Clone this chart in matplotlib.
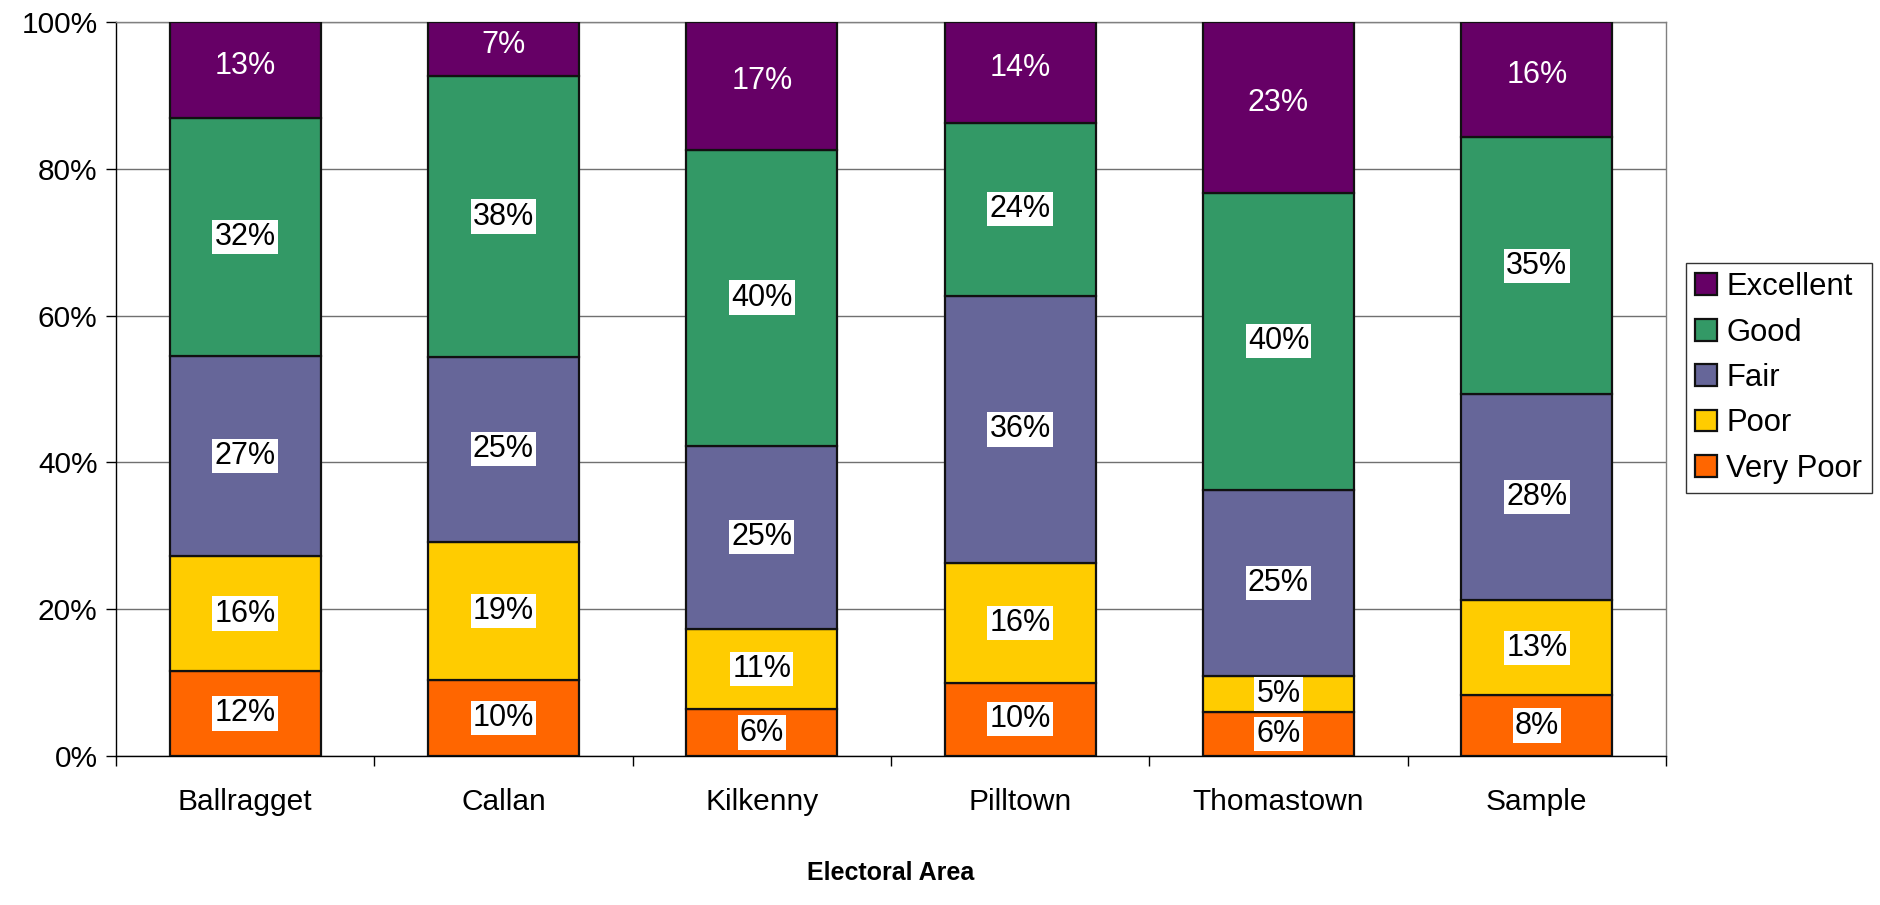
import matplotlib
matplotlib.use("Agg")
import matplotlib.pyplot as plt
import numpy as np

plt.rcParams['font.family'] = ['Liberation Sans', 'DejaVu Sans']

areas = ["Ballragget", "Callan", "Kilkenny", "Pilltown", "Thomastown", "Sample"]
series_names = ["Very Poor", "Poor", "Fair", "Good", "Excellent"]
very_poor = [11.6, 10.3, 6.4, 10.0, 6.0, 8.3]
poor = [15.6, 18.9, 10.9, 16.3, 4.9, 12.9]
fair = [27.3, 25.2, 25.0, 36.4, 25.4, 28.1]
good = [32.4, 38.2, 40.3, 23.6, 40.4, 35.0]
excellent = [13.1, 7.4, 17.4, 13.7, 23.3, 15.7]
colors = ["#FF6600", "#FFCC00", "#666699", "#339966", "#660066"]
y_ticks = [0, 20, 40, 60, 80, 100]

series = [very_poor, poor, fair, good, excellent]

fig = plt.figure(figsize=(18.81, 9.05), dpi=100)
ax = fig.add_axes([116/1881, 1-756/905, (1666-116)/1881, (756-22)/905])

x = np.arange(len(areas))
bottom = np.zeros(len(areas))
handles = []
for i, (name, vals, col) in enumerate(zip(series_names, series, colors)):
    vals = np.array(vals)
    b = ax.bar(x, vals, 0.585, bottom=bottom, color=col, edgecolor='#111111',
               linewidth=1.6, label=name, zorder=3)
    handles.append(b)
    for xi, v, bt in zip(x, vals, bottom):
        txt = f"{int(round(v))}%"
        if name == "Excellent":
            ax.text(xi, bt + v/2 + 0.6, txt, ha='center', va='center', fontsize=22,
                    color='white', zorder=5)
        else:
            ax.text(xi, bt + v/2, txt, ha='center', va='center', fontsize=22,
                    color='black', zorder=5,
                    bbox=dict(boxstyle='square,pad=0.07', facecolor='white', edgecolor='none'))
    bottom = bottom + vals

ax.set_xlim(-0.5, len(areas) - 0.5)
ax.set_ylim(0, 100)
ax.set_yticks(y_ticks)
ax.set_yticklabels([f"{t}%" for t in y_ticks], fontsize=21.5)
ax.yaxis.grid(True, color='#707070', linewidth=1.0, zorder=0)
ax.set_axisbelow(True)
ax.tick_params(axis='y', length=7.2, width=1, direction='out', pad=6)

ax.set_xticks(x)
ax.set_xticklabels(areas, fontsize=21.5)
ax.set_xticks(np.arange(-0.5, len(areas)), minor=True)
ax.tick_params(axis='x', which='major', length=0, pad=23)
ax.tick_params(axis='x', which='minor', length=7.2, width=1, direction='out')

for s in ['left', 'bottom']:
    ax.spines[s].set_color('black')
    ax.spines[s].set_linewidth(1.0)
for s in ['top', 'right']:
    ax.spines[s].set_color('#808080')
    ax.spines[s].set_linewidth(1.0)

fig.text(891/1881, 1-873/905, "Electoral Area", ha='center', va='center',
         fontsize=18, fontweight='bold')

leg = fig.legend(handles[::-1], series_names[::-1], loc='center left',
                 bbox_to_anchor=(1686/1881, 1-378/905), fontsize=22.3,
                 frameon=True, fancybox=False, shadow=False,
                 handlelength=0.7, handleheight=0.7, handletextpad=0.3,
                 labelspacing=0.5, borderpad=0.3, borderaxespad=0)
leg.get_frame().set_edgecolor('black')
leg.get_frame().set_linewidth(1.0)

fig.savefig("out.png", dpi=100)
